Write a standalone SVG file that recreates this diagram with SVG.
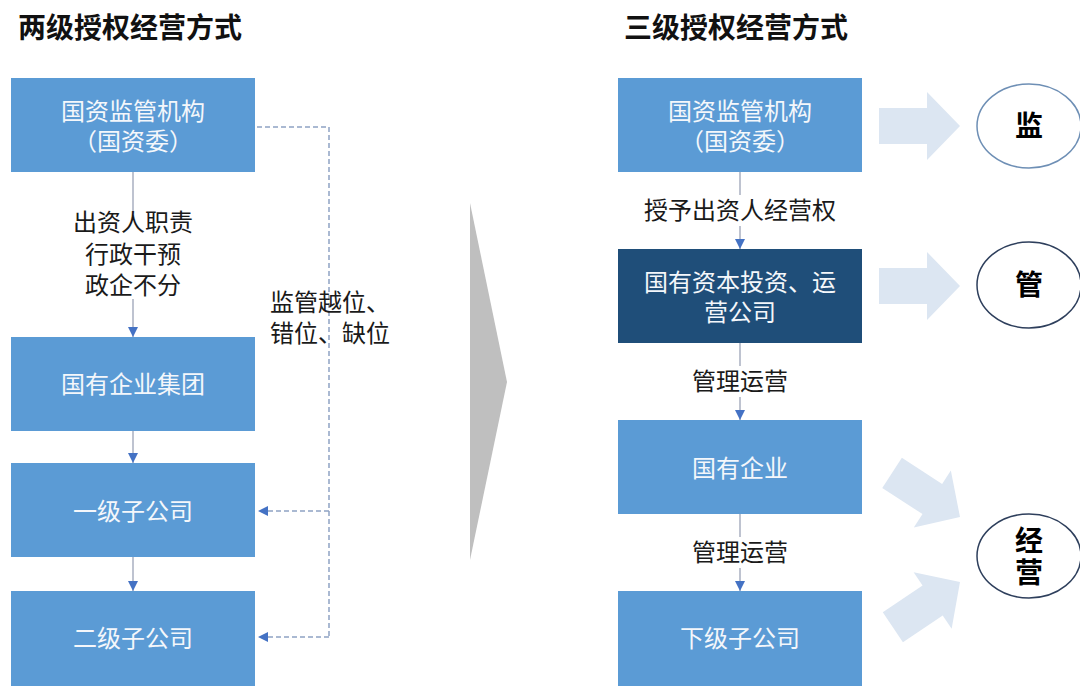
<svg xmlns="http://www.w3.org/2000/svg" width="1080" height="686" viewBox="0 0 1080 686">
<defs>
<style>
.title{font-family:"Noto Sans CJK SC","Noto Sans",sans-serif;font-size:28px;font-weight:bold;fill:#111}
.box{fill:#5B9BD5}
.dark{fill:#1F4E79}
.bt{font-family:"Noto Sans CJK SC","Noto Sans",sans-serif;font-size:24px;fill:#F4F7FB;text-anchor:middle}
.lb{font-family:"Noto Sans CJK SC","Noto Sans",sans-serif;font-size:24px;fill:#1a1a1a;text-anchor:middle}
.lbs{font-family:"Noto Sans CJK SC","Noto Sans",sans-serif;font-size:24px;fill:#1a1a1a}
.ct{font-family:"Noto Sans CJK SC","Noto Sans",sans-serif;font-size:28px;font-weight:bold;fill:#000;text-anchor:middle}
.ln{stroke:#A9AFC0;stroke-width:1.5;fill:none}
.dash{stroke:#8FA3C4;stroke-width:1.5;fill:none;stroke-dasharray:5 3}
.barrow{fill:#DCE6F2}
</style>
<marker id="ah" viewBox="0 0 10 10" refX="10" refY="5" markerWidth="10" markerHeight="10" markerUnits="userSpaceOnUse" orient="auto">
<path d="M0,0 L10,5 L0,10 Z" fill="#4472C4"/>
</marker>
<path id="blk" d="M-81,-18 L-33,-18 L-33,-34 L0,0 L-33,34 L-33,18 L-81,18 Z"/>
</defs>
<rect width="1080" height="686" fill="#fff"/>
<text class="title" x="18" y="38">两级授权经营方式</text>
<text class="title" x="624" y="38">三级授权经营方式</text>

<g id="connectors">
<path class="ln" d="M133,172 V211"/>
<path class="ln" d="M133,299 V337" marker-end="url(#ah)"/>
<path class="ln" d="M133,431 V463" marker-end="url(#ah)"/>
<path class="ln" d="M133,557 V591" marker-end="url(#ah)"/>
<path class="dash" d="M257,127 H329 V637"/>
<path class="dash" d="M329,511 H258" marker-end="url(#ah)"/>
<path class="dash" d="M329,637 H258" marker-end="url(#ah)"/>
<path class="ln" d="M740,172 V195"/>
<path class="ln" d="M740,226 V249" marker-end="url(#ah)"/>
<path class="ln" d="M740,343 V366"/>
<path class="ln" d="M740,397 V420" marker-end="url(#ah)"/>
<path class="ln" d="M740,514 V537"/>
<path class="ln" d="M740,568 V591" marker-end="url(#ah)"/>
</g>

<g id="labels">
<text class="lb" x="133" y="231">出资人职责<tspan x="133" dy="32">行政干预</tspan><tspan x="133" dy="31">政企不分</tspan></text>
<text class="lbs" x="270" y="311">监管越位、<tspan x="270" dy="31">错位、缺位</tspan></text>
<text class="lb" x="740" y="219">授予出资人经营权</text>
<text class="lb" x="740" y="390">管理运营</text>
<text class="lb" x="740" y="561">管理运营</text>
</g>

<g id="l1"><rect class="box" x="11" y="78" width="244" height="94"/><text class="bt" x="133" y="120">国资监管机构<tspan x="133" dy="30">（国资委）</tspan></text></g>
<g id="l2"><rect class="box" x="11" y="337" width="244" height="94"/><text class="bt" x="133" y="393">国有企业集团</text></g>
<g id="l3"><rect class="box" x="11" y="463" width="244" height="94"/><text class="bt" x="133" y="520">一级子公司</text></g>
<g id="l4"><rect class="box" x="11" y="591" width="244" height="95"/><text class="bt" x="133" y="647">二级子公司</text></g>

<g id="divider"><polygon points="470,203 507,382 470,560" fill="#BFBFBF"/></g>

<g id="r1"><rect class="box" x="618" y="78" width="244" height="94"/><text class="bt" x="740" y="120">国资监管机构<tspan x="740" dy="30">（国资委）</tspan></text></g>
<g id="r2"><rect class="dark" x="618" y="249" width="244" height="94"/><text class="bt" x="740" y="291">国有资本投资、运<tspan x="740" dy="30">营公司</tspan></text></g>
<g id="r3"><rect class="box" x="618" y="420" width="244" height="94"/><text class="bt" x="740" y="477">国有企业</text></g>
<g id="r4"><rect class="box" x="618" y="591" width="244" height="95"/><text class="bt" x="740" y="647">下级子公司</text></g>

<g id="block-arrows">
<use href="#blk" class="barrow" transform="translate(960,126)"/>
<use href="#blk" class="barrow" transform="translate(960,286)"/>
<use href="#blk" class="barrow" transform="translate(960,517) rotate(33)"/>
<use href="#blk" class="barrow" transform="translate(960,582) rotate(-34)"/>
</g>

<g id="c1"><ellipse cx="1029" cy="126" rx="52" ry="42" fill="#fff" stroke="#6E8FB5" stroke-width="1.5"/><text class="ct" x="1029" y="136">监</text></g>
<g id="c2"><ellipse cx="1029" cy="285" rx="52" ry="43" fill="#fff" stroke="#2E3F5C" stroke-width="1.5"/><text class="ct" x="1029" y="295">管</text></g>
<g id="c3"><ellipse cx="1029" cy="556" rx="52" ry="42" fill="#fff" stroke="#2E3F5C" stroke-width="1.5"/><text class="ct" x="1029" y="551">经<tspan x="1029" dy="32">营</tspan></text></g>
</svg>
